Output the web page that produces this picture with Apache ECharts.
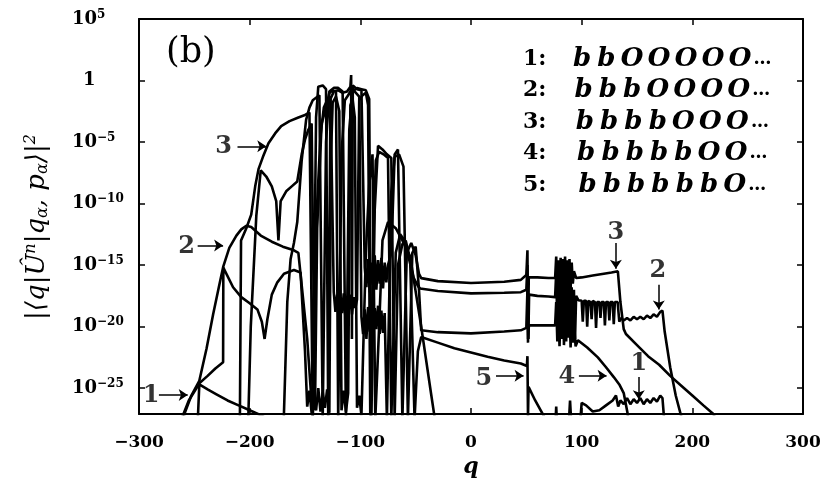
<!DOCTYPE html>
<html><head><meta charset="utf-8">
<script src="https://cdn.jsdelivr.net/npm/echarts/dist/echarts.min.js"></script>
<style>html,body{margin:0;padding:0;background:#fff}#c{width:830px;height:497px}</style>
</head><body><div id="c"></div>
<script>
// x: q ; y: log10 of |<q|U^n|q_a,p_a>|^2
const xTickValues = [-300,-200,-100,0,100,200,300];
const yTickExps = [5,0,-5,-10,-15,-20,-25];
const curve1 = [[-270,-30],[-262,-27.6],[-255,-26.0],[-248,-25.0],[-245.5,-24.6],[-238,-24.0],[-231,-23.4],[-224,-22.9],[-223.8,-15.2],[-215,-16.8],[-207.6,-17.6],[-200,-18.1],[-193,-18.6],[-189,-19.6],[-186.5,-21.0],[-184,-19.4],[-180,-17.4],[-175,-16.4],[-169,-15.7],[-160,-15.4],[-154,-15.6],[-150,-22],[-148,-26.5],[-146,-25.2],[-144,-27.0],[-142,-25.4],[-140,-26.8],[-138,-25.0],[-136,-26.9],[-134,-25.3],[-132,-26.6],[-130,-25.1],[-128,-27.0],[-126.5,-6],[-125,-1.8],[-122,-1.3],[-119,-2.5],[-117,-26.8],[-115,-25.2],[-113,-26.9],[-111,-25.4],[-109,-2.0],[-107,-1.5],[-105,-3.0],[-103,-26.6],[-101,-25.6],[-99,-27.2],[-95,-14],[-92,-8.5],[-89,-6.0],[-86.5,-27.5],[-83,-20],[-80,-13.0],[-75,-11.5],[-68,-12.0],[-62,-13.0],[-55,-14.3],[-45,-20],[-36,-25.5],[-33,-27.3],[-30,-30],[70,-30],[76,-28.5],[77,-26.5],[78,-28.5],[88,-28.5],[89.5,-26.0],[91,-28.5],[98,-28.5],[100,-26.2],[104,-26.4],[110,-26.9],[116,-26.8],[122,-26.4],[128,-26.0],[131,-25.6],[133,-26.5],[135,-26.0],[138,-26.3],[141,-25.8],[144,-26.3],[147,-25.9],[150,-26.2],[153,-25.8],[156,-26.3],[159,-25.9],[162,-26.2],[165,-25.8],[168,-26.1],[171,-25.6],[173,-25.8],[174.5,-27.5],[177,-30]];
const curve2 = [[-263,-30],[-259,-27.1],[-252.7,-25.6],[-245.5,-24.4],[-239,-21.8],[-233,-19.0],[-227.4,-16.6],[-223.8,-15.1],[-218.4,-13.6],[-212,-12.6],[-207.6,-12.1],[-203,-11.8],[-198.6,-11.9],[-190,-12.6],[-180,-13.1],[-170,-13.5],[-160,-13.8],[-156,-14.0],[-148,-21],[-143,-27.5],[-139,-10],[-136,-4.5],[-133,-2.2],[-130,-1.6],[-127,-1.3],[-124,-17.2],[-122.5,-18.8],[-121,-17.4],[-119.5,-19.0],[-118,-17.6],[-116.5,-18.9],[-115,-17.3],[-113.5,-19.2],[-112,-17.5],[-110.5,-18.7],[-109,-17.4],[-107.5,-19.0],[-106,-17.6],[-104.5,-18.5],[-103,-17.8],[-101,-1.6],[-98,-1.2],[-95,-1.0],[-93,-2.0],[-91,-27.5],[-88,-12],[-86,-6.5],[-83,-5.8],[-79,-6.0],[-75,-6.3],[-72,-27.5],[-68,-14],[-64,-12.5],[-60,-13.0],[-56,-14.5],[-52,-16.0],[-48,-16.7],[-46,-16.9],[-30,-17.1],[0,-17.3],[30,-17.25],[45,-17.2],[50,-17.0],[51,-15.0],[51.8,-21.0],[52.5,-17.4],[60,-17.5],[70,-17.55],[76,-17.6],[77,-15.6],[78,-19.8],[79,-16.0],[80,-20.4],[81,-15.8],[82,-19.5],[83,-16.3],[84,-20.8],[85,-16.0],[86,-19.8],[87,-16.5],[88,-20.2],[89,-16.2],[90,-19.6],[91,-16.8],[92,-20.5],[93,-17.0],[94,-21.0],[95,-17.5],[97,-17.85],[100,-17.9],[101,-19.6],[102,-17.9],[104,-17.9],[105,-20.0],[106,-17.9],[108,-18.0],[109,-19.4],[110,-17.9],[112,-18.0],[113,-20.1],[114,-18.0],[116,-18.0],[117,-19.3],[118,-18.0],[120,-18.0],[121,-19.9],[122,-18.0],[124,-18.0],[125,-19.5],[126,-18.0],[128,-18.0],[129,-19.8],[130,-18.0],[132.5,-18.0],[134,-19.6],[135.5,-19.3],[138,-19.5],[141,-19.3],[144,-19.5],[147,-19.2],[150,-19.4],[153,-19.2],[156,-19.4],[159,-19.1],[162,-19.3],[165,-19.0],[168,-19.2],[171,-18.8],[173,-18.7],[175,-20.4],[180,-23.3],[185,-25.6],[190,-27.3],[194,-29]];
const curve3 = [[-209,-30],[-207.8,-13.0],[-203,-12.0],[-198.6,-10.9],[-195,-8.6],[-192,-7.2],[-188,-6.2],[-183,-5.1],[-177,-4.3],[-171.5,-3.7],[-164,-3.3],[-156,-3.0],[-150,-2.8],[-146,-2.6],[-143,-27.5],[-140,-3.0],[-138,-0.5],[-134,-0.4],[-131,-0.7],[-129,-27.5],[-127,-1.5],[-124,-0.9],[-120,-0.8],[-116,-1.0],[-112,-0.9],[-109,-0.5],[-108.3,0.45],[-107.6,-21],[-106.8,-0.4],[-103,-0.7],[-99,-0.8],[-96,-15.2],[-94.5,-16.8],[-93,-14.5],[-91.5,-17.2],[-90,-14.8],[-88.5,-16.6],[-87,-14.2],[-85.5,-17.0],[-84,-14.6],[-82.5,-16.5],[-81,-14.4],[-79.5,-16.9],[-78,-14.8],[-76.5,-16.4],[-75,-15.0],[-72,-14.0],[-69,-6.0],[-66,-5.6],[-62,-27.5],[-58,-14.0],[-54,-13.2],[-50,-14.2],[-47,-15.7],[-45,-16.06],[-30,-16.3],[0,-16.45],[30,-16.35],[45,-16.2],[50,-15.8],[51,-13.8],[51.5,-21.3],[52.2,-16.0],[60,-16.0],[70,-16.05],[76,-16.05],[77,-14.3],[78,-17.6],[79,-14.6],[80,-17.3],[81,-14.4],[82,-17.8],[83,-14.5],[84,-17.0],[85,-14.3],[86,-17.5],[87,-14.6],[88,-17.2],[89,-14.5],[90,-16.9],[91,-14.8],[92,-16.5],[93,-15.5],[95,-16.05],[100,-16.0],[110,-15.85],[120,-15.7],[127,-15.6],[132.7,-15.5],[135,-18.0],[138,-20.2],[140,-20.6],[150,-21.5],[160,-22.4],[170,-23.1],[180,-24.0],[190,-24.8],[200,-25.6],[210,-26.4],[219,-27.1],[226,-28.5]];
const curve4 = [[-202,-30],[-199,-20],[-194,-11],[-190,-7.3],[-185,-7.8],[-180,-8.6],[-176,-9.8],[-174,-13.0],[-172,-9.8],[-167,-9.0],[-162,-8.6],[-157,-8.2],[-153,-6],[-150,-4.8],[-147,-4.0],[-144,-3.5],[-141,-26.8],[-139,-12],[-135,-3.5],[-131,-2.2],[-128,-1.0],[-125,-0.8],[-122,-0.9],[-120,-27.5],[-117,-6],[-114,-1.6],[-111,-1.2],[-108,-0.7],[-105,-0.9],[-101,-1.3],[-99,-19.2],[-97.5,-20.6],[-96,-18.6],[-94.5,-21.0],[-93,-18.4],[-91.5,-20.4],[-90,-18.2],[-88.5,-20.8],[-87,-18.5],[-85.5,-20.2],[-84,-18.3],[-82.5,-20.6],[-81,-18.7],[-79.5,-20.5],[-78,-18.9],[-76,-27.5],[-72,-9],[-69,-6.2],[-65,-6.0],[-61,-7.0],[-57,-27.5],[-53,-14],[-50,-13.5],[-47,-17],[-45,-20.3],[-30,-20.45],[0,-20.55],[30,-20.4],[45,-20.3],[50,-20.1],[51,-17.0],[51.6,-21.0],[52.3,-19.9],[60,-19.9],[70,-19.9],[76,-19.9],[77,-18.0],[78,-21.2],[79,-18.5],[80,-21.6],[81,-18.2],[82,-21.0],[83,-17.6],[84,-21.5],[85,-18.6],[86,-21.2],[87,-17.8],[88,-20.9],[89,-18.4],[90,-21.7],[91,-18.9],[92,-21.3],[93,-19.5],[94.5,-21.6],[96.6,-21.1],[105,-21.7],[114.6,-22.5],[122,-23.3],[129,-24.1],[134,-24.7],[138,-25.4],[141.6,-27.1],[143,-28.5]];
const curve5 = [[-248,-30],[-245.5,-24.7],[-238,-25.1],[-230,-25.5],[-220,-26.0],[-210,-26.4],[-200,-26.8],[-190,-27.2],[-182,-27.6],[-178,-30],[-170,-30],[-166,-18],[-163,-14.5],[-160,-13.2],[-157,-11.5],[-153,-6.5],[-149,-3.2],[-146,-2.2],[-143,-1.6],[-140,-1.4],[-137,-1.2],[-134,-27.5],[-131,-5],[-128,-0.9],[-124,-0.6],[-120,-0.6],[-116,-0.9],[-113,-27.5],[-110,-4],[-107,-0.9],[-103,-0.6],[-99,-0.7],[-95,-0.8],[-92,-1.5],[-90,-27.5],[-87,-10.5],[-84,-5.3],[-80,-5.6],[-76,-6.0],[-72,-6.3],[-69,-27.5],[-66,-15],[-62,-13.3],[-59,-13.0],[-55,-14.5],[-51,-27.5],[-48,-22],[-45,-20.85],[-30,-21.3],[-15,-21.75],[0,-22.1],[15,-22.45],[30,-22.75],[45,-23.0],[50.5,-23.2],[51,-22.4],[51.5,-27.3],[52,-24.9],[58,-26.0],[66,-27.3],[72,-29]];
const curves = [curve1, curve2, curve3, curve4, curve5];
// annotation arrows: [from, to] in data coordinates
const arrowLines = [
  [[-282,-25.55],[-256,-25.55]],
  [[-247,-13.4],[-224,-13.4]],
  [[-211,-5.35],[-185,-5.35]],
  [[22.6,-24.0],[47.5,-24.0]],
  [[97.5,-24.0],[122.5,-24.0]],
  [[130.9,-13.2],[130.9,-15.3]],
  [[169.7,-16.6],[169.7,-18.6]],
  [[151.6,-24.1],[151.6,-25.9]]
];
const arrowTexts = [
  [-289,-25.6,'1'],[-257,-13.5,'2'],[-223.5,-5.4,'3'],
  [11.7,-24.2,'5'],[86.6,-24.1,'4'],
  [130.9,-12.4,'3'],[168.8,-15.5,'2'],[151.6,-23.05,'1']
];
const legendIds = ['1','2','3','4','5'];
const legendSeqs = ['bbOOOOO','bbbOOOO','bbbbOOO','bbbbbOO','bbbbbbO'];

const SERIF = "'DejaVu Serif', serif";
const chart = echarts.init(document.getElementById('c'), null, {renderer:'canvas'});

const legendText = legendIds.map((id,i)=>{
  let s = '{n|' + id + ':}';
  for (const ch of legendSeqs[i]) s += (ch === 'b' ? '{b|b}' : '{o|O}');
  return s + '{d|…}';
}).join('\n');

const axisCommon = {
  min: -300, max: 300, interval: 100,
  axisLine: {show: true, onZero: false, lineStyle: {color: '#000', width: 2}},
  axisTick: {show: true, inside: true, length: 6, lineStyle: {color: '#000', width: 1.5}},
  splitLine: {show: false}
};
const yCommon = {
  type: 'value', min: -27.1, max: 5,
  axisLine: {show: true, onZero: false, lineStyle: {color: '#000', width: 2}},
  axisTick: {show: true, inside: true, length: 6, customValues: yTickExps, lineStyle: {color: '#000', width: 1.5}},
  splitLine: {show: false}
};

const series = curves.map((c) => ({
  type: 'line', data: c, showSymbol: false, symbol: 'none', clip: true,
  lineStyle: {color: '#000', width: 2.6}, animation: false, z: 2
}));
series.push({
  type: 'lines', coordinateSystem: 'cartesian2d', xAxisIndex: 0, yAxisIndex: 0,
  symbol: ['none', 'arrow'], symbolSize: 9, silent: true, animation: false, z: 4,
  lineStyle: {color: '#000', width: 1.5, opacity: 1, curveness: 0},
  data: arrowLines.map(a => ({coords: a}))
});
series.push({
  type: 'scatter', symbolSize: 0, animation: false, z: 5, silent: true,
  data: arrowTexts.map(t => ({value: [t[0], t[1]], name: t[2]})),
  label: {show: true, position: 'inside', formatter: '{b}', color: '#000',
    fontFamily: SERIF, fontSize: 24, fontWeight: 'bold'}
});

chart.setOption({
  animation: false,
  backgroundColor: '#fff',
  grid: {left: 139, right: 27, top: 19, bottom: 83},
  xAxis: [
    Object.assign({type: 'value', position: 'bottom',
      name: 'q', nameLocation: 'middle', nameGap: 42,
      nameTextStyle: {fontFamily: SERIF, fontStyle: 'italic', fontWeight: 'bold', fontSize: 22, color: '#000'},
      axisLabel: {show: true, margin: 20, color: '#000', fontFamily: SERIF, fontWeight: 'bold', fontSize: 17,
        formatter: v => (v < 0 ? '\u2212' + Math.abs(v) : String(v))}
    }, axisCommon),
    Object.assign({type: 'value', position: 'top', axisLabel: {show: false}}, axisCommon)
  ],
  yAxis: [
    Object.assign({position: 'left',
      axisLabel: {show: true, customValues: yTickExps, align: 'left', margin: 67, color: '#000',
        formatter: v => v === 0 ? '{one|1}' : '{b|10}{s|' + (v < 0 ? '\u2212' + Math.abs(v) : v) + '}',
        rich: {
          b: {fontFamily: SERIF, fontWeight: 'bold', fontSize: 18, color: '#000'},
          s: {fontFamily: SERIF, fontWeight: 'bold', fontSize: 12, color: '#000', padding: [0,0,9,0]},
          one: {fontFamily: SERIF, fontWeight: 'bold', fontSize: 18, color: '#000', padding: [0,0,0,11]}
        }}
    }, yCommon),
    Object.assign({position: 'right', axisLabel: {show: false}}, yCommon)
  ],
  series: series,
  graphic: [
    {type: 'text', left: 166, top: 35, style: {text: '(b)', font: "normal 35px 'DejaVu Serif'", fill: '#000'}},
    {type: 'text', left: 523, top: 46, style: {
      text: legendText, fill: '#000',
      rich: {
        n: {fontFamily: SERIF, fontWeight: 'bold', fontSize: 22, width: 47, lineHeight: 31.5},
        b: {fontFamily: SERIF, fontWeight: 'bold', fontStyle: 'italic', fontSize: 26, width: 24.3, align: 'center', lineHeight: 31.5},
        o: {fontFamily: SERIF, fontWeight: 'bold', fontStyle: 'italic', fontSize: 26, width: 27, align: 'center', lineHeight: 31.5},
        d: {fontFamily: SERIF, fontWeight: 'bold', fontSize: 18, lineHeight: 31.5}
      }}},
    {type: 'text', x: 37, y: 227, rotation: Math.PI / 2, style: {
      text: '{t|\u007C\u27E8q\u007C}{t|\u00DB}{sup|n}{t|\u007Cq}{sub|\u03B1}{t|, p}{sub|\u03B1}{t|\u27E9\u007C}{sup|2}',
      align: 'center', verticalAlign: 'middle', fill: '#000',
      rich: {
        t: {fontFamily: SERIF, fontStyle: 'italic', fontSize: 26, fill: '#000'},
        sup: {fontFamily: SERIF, fontStyle: 'italic', fontSize: 16, padding: [0,0,13,0]},
        sub: {fontFamily: SERIF, fontStyle: 'italic', fontSize: 16, padding: [11,0,0,0]}
      }}}
  ]
});
</script></body></html>
